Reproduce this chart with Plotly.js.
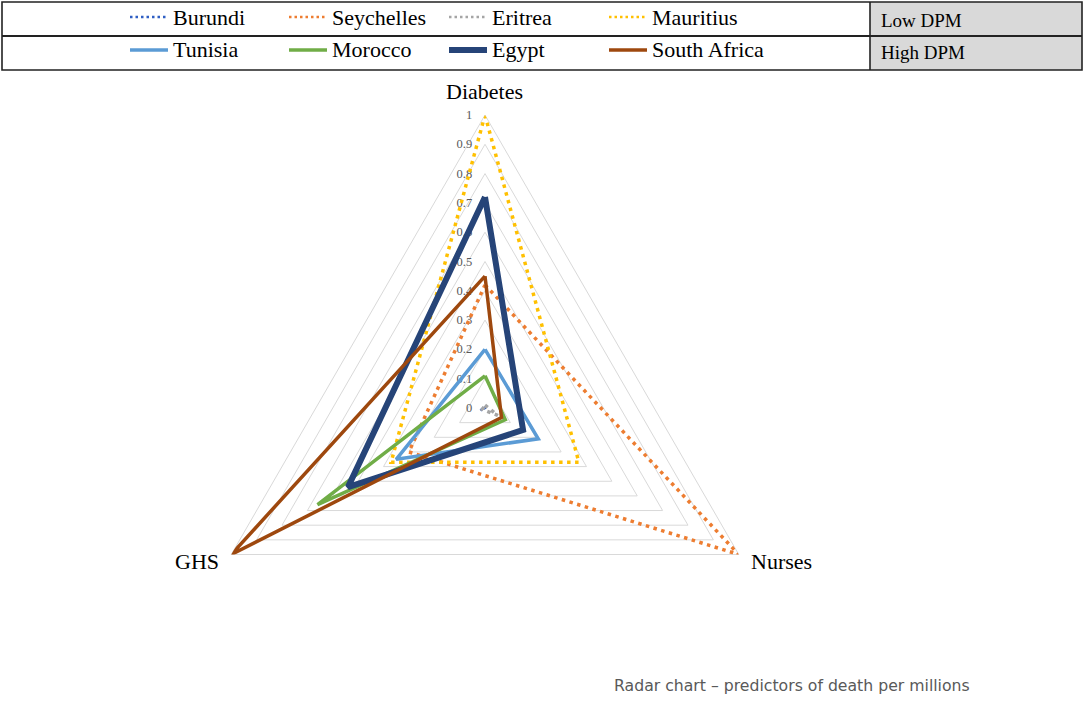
<!DOCTYPE html>
<html>
<head>
<meta charset="utf-8">
<script src="https://cdn.plot.ly/plotly-3.0.1.min.js"></script>
<style>html,body{margin:0;padding:0;background:#fff;}#chart{width:1084px;height:723px;}</style>
</head>
<body>
<div id="chart"></div>
<script>
// ---- data ----
const categories = ['Diabetes', 'Nurses', 'GHS'];
const seriesNames = ['Burundi', 'Seychelles', 'Eritrea', 'Mauritius', 'Tunisia', 'Morocco', 'Egypt', 'South Africa'];
const burundi     = [0.005, 0.00, 0.02];
const seychelles  = [0.42, 1.00, 0.30];
const eritrea     = [0.01, 0.05, 0.01];
const mauritius   = [1.00, 0.37, 0.37];
const tunisia     = [0.20, 0.21, 0.35];
const morocco     = [0.11, 0.08, 0.66];
const egypt       = [0.72, 0.15, 0.54];
const southAfrica = [0.45, 0.065, 1.00];
const groupLabels = ['Low DPM', 'High DPM'];
const captionText = 'Radar chart \u2013 predictors of death per millions';

const seriesValues = [burundi, seychelles, eritrea, mauritius, tunisia, morocco, egypt, southAfrica];
const seriesColors = ['#2F5FC4', '#ED7D31', '#A5A5A5', '#FFC000', '#5B9BD5', '#70AD47', '#264478', '#9E480E'];
const seriesDotted = [true, true, true, true, false, false, false, false];
const seriesWidth  = [2.5, 3.5, 3.5, 3.5, 3.5, 3.5, 6, 3.5];

const W = 1084, H = 723;
const px = x => x / W;
const py = y => 1 - y / H;

const traces = seriesNames.map((name, i) => ({
  type: 'scatterpolar',
  mode: 'lines',
  name: name,
  r: seriesValues[i].concat([seriesValues[i][0]]),
  theta: categories.concat([categories[0]]),
  line: {
    color: seriesColors[i],
    width: seriesWidth[i],
    dash: seriesDotted[i] ? '3.5px,4.5px' : 'solid',
    shape: 'linear'
  },
  showlegend: false,
  hoverinfo: 'skip'
}));

// ---- legend table (decoration) ----
const shapes = [];
const annotations = [];
const serif = 'Liberation Serif, Times New Roman, serif';
shapes.push({type: 'rect', xref: 'paper', yref: 'paper', x0: px(870), x1: px(1082), y0: py(2), y1: py(70),
  fillcolor: '#D9D9D9', line: {width: 0}, layer: 'below'});
shapes.push({type: 'rect', xref: 'paper', yref: 'paper', x0: px(2), x1: px(1082), y0: py(2), y1: py(70),
  fillcolor: 'rgba(0,0,0,0)', line: {color: '#222', width: 1.6}});
shapes.push({type: 'line', xref: 'paper', yref: 'paper', x0: px(2), x1: px(1082), y0: py(36), y1: py(36),
  line: {color: '#222', width: 2}});
shapes.push({type: 'line', xref: 'paper', yref: 'paper', x0: px(870), x1: px(870), y0: py(2), y1: py(70),
  line: {color: '#222', width: 1.6}});

const colText = [171, 330, 490, 650];
const rowY = [17, 50];
seriesNames.forEach((name, i) => {
  const row = Math.floor(i / 4), col = i % 4;
  const tx = colText[col];
  shapes.push({type: 'line', xref: 'paper', yref: 'paper',
    x0: px(tx - 41), x1: px(tx - 3), y0: py(rowY[row]), y1: py(rowY[row]),
    line: {color: seriesColors[i], width: seriesDotted[i] ? 2.5 : (seriesWidth[i] > 5 ? 6 : 3.5),
      dash: seriesDotted[i] ? '2.5px,3px' : 'solid'}});
  annotations.push({xref: 'paper', yref: 'paper', x: px(tx), y: py(rowY[row]), xanchor: 'left', yanchor: 'middle',
    text: name, showarrow: false, font: {family: serif, size: 22, color: '#000'}});
});
groupLabels.forEach((g, j) => {
  annotations.push({xref: 'paper', yref: 'paper', x: px(879), y: py(j === 0 ? 20 : 53), xanchor: 'left', yanchor: 'middle',
    text: g, showarrow: false, font: {family: serif, size: 19, color: '#000'}});
});
// category labels outside the radar vertices
const catPos = [
  {x: 484.5, y: 91, xa: 'center'},
  {x: 749, y: 561, xa: 'left'},
  {x: 221, y: 561, xa: 'right'}
];
categories.forEach((c, k) => {
  annotations.push({xref: 'paper', yref: 'paper', x: px(catPos[k].x), y: py(catPos[k].y), xanchor: catPos[k].xa,
    yanchor: 'middle', text: c, showarrow: false, font: {family: serif, size: 22, color: '#000'}});
});
annotations.push({xref: 'paper', yref: 'paper', x: px(612), y: py(685), xanchor: 'left', yanchor: 'middle',
  text: captionText, showarrow: false, font: {family: 'DejaVu Sans, sans-serif', size: 15.7, color: '#595959'}});

const layout = {
  width: W, height: H,
  margin: {l: 0, r: 0, t: 0, b: 0},
  paper_bgcolor: '#fff',
  showlegend: false,
  polar: {
    domain: {x: [px(192), px(778)], y: [py(701), py(115)]},
    gridshape: 'linear',
    bgcolor: '#fff',
    radialaxis: {
      range: [0, 1], tick0: 0, dtick: 0.1, angle: 90, side: 'counterclockwise',
      showline: false, ticks: 'outside', ticklen: 8, tickcolor: 'rgba(0,0,0,0)',
      gridcolor: '#D9D9D9', gridwidth: 1,
      tickfont: {family: serif, size: 12.5, color: '#595959'}, tickangle: 90, layer: 'below traces'
    },
    angularaxis: {
      rotation: 90, direction: 'clockwise', showgrid: false, showline: true,
      linecolor: '#D9D9D9', linewidth: 1, ticks: '', showticklabels: false, layer: 'below traces'
    }
  },
  shapes: shapes,
  annotations: annotations
};

Plotly.newPlot('chart', traces, layout, {displayModeBar: false, staticPlot: true});
</script>
</body>
</html>
